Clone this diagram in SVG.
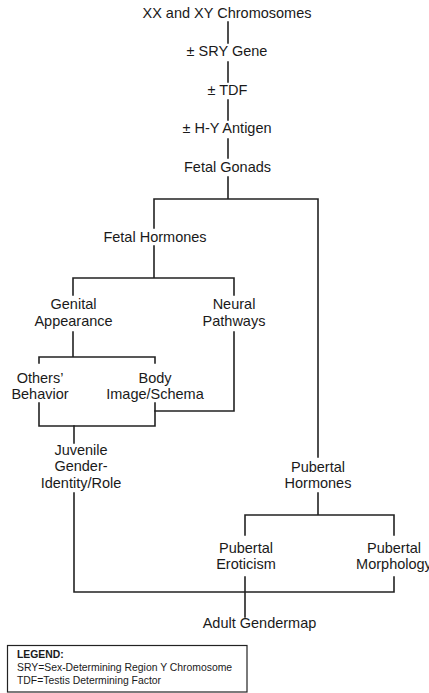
<svg xmlns="http://www.w3.org/2000/svg" width="429" height="693" viewBox="0 0 429 693">
<style>
  .t { font-family: "Liberation Sans", Arial, sans-serif; font-size: 14.5px; fill: #1a1a1a; text-anchor: middle; }
  .c { fill: none; stroke: #222; stroke-width: 1.6; stroke-linecap: square; }
  .lg { font-family: "Liberation Sans", Arial, sans-serif; font-size: 10.4px; fill: #1a1a1a; }
</style>
<rect width="429" height="693" fill="#fff"/>
<g id="connectors" class="c">
  <path d="M228 22V43"/>
  <path d="M228 62V82"/>
  <path d="M228 100V120"/>
  <path d="M228 139V158"/>
  <path d="M228 177V199M154 228V199H318V457"/>
  <path d="M154 246V278M73 295V278H234V295"/>
  <path d="M73 332V357M39 363V357H155V363"/>
  <path d="M234 332V411H155"/>
  <path d="M39 403V426H155V403"/>
  <path d="M74 426V443"/>
  <path d="M318 493V515M245 535V515H394V535"/>
  <path d="M74 493V592H394V577"/>
  <path d="M245 577V617"/>
</g>
<g id="chromosomes"><text class="t" x="227" y="18">XX and XY Chromosomes</text></g>
<g id="sry"><text class="t" x="227" y="56">± SRY Gene</text></g>
<g id="tdf"><text class="t" x="227.5" y="95">± TDF</text></g>
<g id="hy"><text class="t" x="227" y="133">± H-Y Antigen</text></g>
<g id="gonads"><text class="t" x="227.5" y="172">Fetal Gonads</text></g>
<g id="fetal-hormones"><text class="t" x="155" y="242">Fetal Hormones</text></g>
<g id="genital"><text class="t" x="73.5" y="309">Genital</text><text class="t" x="73.5" y="326">Appearance</text></g>
<g id="neural"><text class="t" x="234" y="309">Neural</text><text class="t" x="234" y="326">Pathways</text></g>
<g id="others"><text class="t" x="40" y="383">Others’</text><text class="t" x="40" y="399">Behavior</text></g>
<g id="body"><text class="t" x="155" y="383">Body</text><text class="t" x="155" y="399">Image/Schema</text></g>
<g id="juvenile"><text class="t" x="81" y="455">Juvenile</text><text class="t" x="81" y="471">Gender-</text><text class="t" x="81" y="488">Identity/Role</text></g>
<g id="pubertal-hormones"><text class="t" x="318" y="472">Pubertal</text><text class="t" x="318" y="488">Hormones</text></g>
<g id="eroticism"><text class="t" x="246" y="553">Pubertal</text><text class="t" x="246" y="569">Eroticism</text></g>
<g id="morphology"><text class="t" x="394" y="553">Pubertal</text><text class="t" x="394" y="569">Morphology</text></g>
<g id="adult"><text class="t" x="259.5" y="628">Adult Gendermap</text></g>
<g id="legend">
  <rect x="7.5" y="645.5" width="239.5" height="46.5" fill="none" stroke="#222" stroke-width="1.2"/>
  <text class="lg" x="17" y="658" font-weight="bold">LEGEND:</text>
  <text class="lg" x="17" y="671">SRY=Sex-Determining Region Y Chromosome</text>
  <text class="lg" x="17" y="683.5">TDF=Testis Determining Factor</text>
</g>
</svg>
